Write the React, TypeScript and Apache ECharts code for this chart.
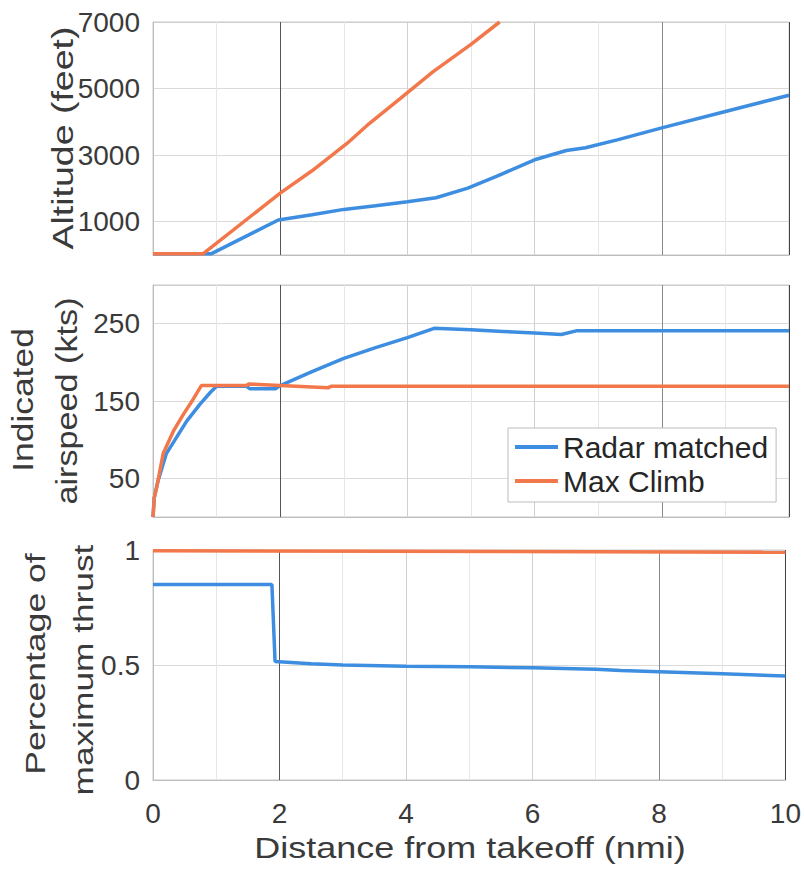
import React, { useEffect, useRef } from "react";
import * as echarts from "echarts";

// ---------- data ----------
const seriesNames = ["Radar matched", "Max Climb"];

// Altitude (feet) vs distance (nmi)
const altRadarX = [0, 0.92, 1.97, 2.5, 3.0, 3.5, 4.0, 4.45, 4.95, 5.4, 6.0, 6.5, 6.8, 7.3, 8.0, 9.0, 10];
const altRadarY = [40, 40, 1050, 1210, 1370, 1480, 1600, 1720, 2010, 2360, 2860, 3140, 3220, 3460, 3820, 4310, 4800];
const altClimbX = [0, 0.79, 2.0, 2.5, 3.05, 3.4, 3.9, 4.4, 5.0, 5.45];
const altClimbY = [40, 40, 1860, 2530, 3350, 3950, 4720, 5500, 6330, 7000];

// Indicated airspeed (kts)
const iasRadarX = [0, 0.02, 0.08, 0.21, 0.37, 0.53, 0.74, 0.9, 1.0, 1.47, 1.52, 1.93, 2.0, 2.5, 3.0, 3.5, 4.0, 4.42, 5.0, 5.5, 6.0, 6.42, 6.67, 7.0, 8.0, 9.0, 10];
const iasRadarY = [0, 25, 47, 82, 103, 124, 146, 161, 169, 169, 166, 166, 170, 188, 205, 219, 232, 244, 242, 240, 238, 236, 241, 241, 241, 241, 241];
const iasClimbX = [0, 0.02, 0.06, 0.16, 0.32, 0.48, 0.63, 0.76, 1.47, 1.5, 2.0, 2.75, 2.8, 10];
const iasClimbY = [0, 25, 39, 82, 111, 133, 152, 170, 170, 172, 170, 167, 169, 169];

// Percentage of maximum thrust
const thrRadarX = [0, 1.88, 1.93, 2.5, 3, 4, 5, 6, 7, 7.4, 8, 9, 10];
const thrRadarY = [0.85, 0.85, 0.515, 0.505, 0.5, 0.495, 0.492, 0.488, 0.482, 0.476, 0.471, 0.462, 0.452];
const thrClimbX = [0, 10];
const thrClimbY = [0.997, 0.99];

// tick labels
const xTickLabels = [0, 2, 4, 6, 8, 10];
const altTickLabels = [1000, 3000, 5000, 7000];
const iasTickLabels = [50, 150, 250];
const thrTickLabels = [0, 0.5, 1];

const BLUE = "#3d8de0";
const ORANGE = "#f2784b";
const FONT = '"Liberation Sans", Arial, Helvetica, sans-serif';
const TXT = "#3a3a3a";
const NONE = "rgba(0,0,0,0)";
const GRIDC = "#dadada";

const zip = (xs: number[], ys: number[]) => xs.map((x, i) => [x, ys[i]]);

export default function App() {
  const ref = useRef<HTMLDivElement>(null);

  useEffect(() => {
    if (!ref.current) return;
    const chart = echarts.init(ref.current, undefined, { renderer: "svg" });

    const xSplitColors = ["#cfcfcf", "#e6e6e6", "#555555", "#e6e6e6", "#d0d0d0", "#e6e6e6", "#d0d0d0", "#e6e6e6", "#8a8a8a", "#e6e6e6", "#444444"];

    const makeX = (gridIndex: number, showLabels: boolean) => ({
      type: "value",
      gridIndex,
      min: 0,
      max: 10,
      interval: 1,
      axisLine: { show: true, lineStyle: { color: "#bdbdbd", width: 1 } },
      axisTick: { show: false },
      axisLabel: {
        show: showLabels,
        margin: 19,
        fontSize: 28,
        fontFamily: FONT,
        color: TXT,
        formatter: (v: number) => (xTickLabels.includes(v) ? String(v) : ""),
      },
      splitLine: { show: true, lineStyle: { color: xSplitColors, width: 1 } },
    });

    const makeY = (gridIndex: number, max: number, interval: number, labels: number[], splitColors: string[]) => ({
      type: "value",
      gridIndex,
      min: 0,
      max,
      interval,
      axisLine: { show: true, lineStyle: { color: "#bdbdbd", width: 1 } },
      axisTick: { show: false },
      axisLabel: {
        margin: 13,
        fontSize: 28,
        fontFamily: FONT,
        color: TXT,
        formatter: (v: number) => (labels.some((l) => Math.abs(l - v) < 1e-9) ? String(v) : ""),
      },
      splitLine: { show: true, lineStyle: { color: splitColors, width: 1 } },
    });

    const line = (name: string, color: string, idx: number, data: number[][]) => ({
      name,
      type: "line",
      xAxisIndex: idx,
      yAxisIndex: idx,
      data,
      showSymbol: false,
      symbol: "none",
      lineStyle: { color, width: 3.5 },
      itemStyle: { color },
      z: name === seriesNames[0] ? 3 : 4,
    });

    const titleStyle = (text: string, size: number) => ({
      text,
      font: `${size}px ${FONT}`,
      fill: TXT,
      textAlign: "center",
      textVerticalAlign: "middle",
    });

    const option: any = {
      animation: false,
      backgroundColor: "#ffffff",
      grid: [
        { left: 153, right: 15, top: 22, height: 233, show: true, borderColor: "#c8c8c8", borderWidth: 1 },
        { left: 153, right: 15, top: 285, height: 232, show: true, borderColor: "#c8c8c8", borderWidth: 1 },
        { left: 153, right: 15, top: 550, height: 230, show: true, borderColor: "#c8c8c8", borderWidth: 1 },
      ],
      xAxis: [makeX(0, false), makeX(1, false), makeX(2, true)],
      yAxis: [
        makeY(0, 7000, 1000, altTickLabels, [NONE, GRIDC, NONE, GRIDC, NONE, GRIDC, NONE, "#cfcfcf"]),
        makeY(1, 300, 50, iasTickLabels, [NONE, GRIDC, NONE, GRIDC, NONE, GRIDC, "#cfcfcf"]),
        makeY(2, 1, 0.5, thrTickLabels, [NONE, GRIDC, "#cfcfcf"]),
      ],
      legend: {
        data: seriesNames,
        orient: "vertical",
        left: 508,
        top: 428,
        padding: [4, 8, 6, 7],
        itemGap: 4,
        itemWidth: 43,
        itemHeight: 4,
        icon: "rect",
        backgroundColor: "#ffffff",
        borderColor: "#bcbcbc",
        borderWidth: 1,
        borderRadius: 0,
        textStyle: { fontSize: 30, fontFamily: FONT, color: "#262626", lineHeight: 30 },
      },
      series: [
        line(seriesNames[0], BLUE, 0, zip(altRadarX, altRadarY)),
        line(seriesNames[1], ORANGE, 0, zip(altClimbX, altClimbY)),
        line(seriesNames[0], BLUE, 1, zip(iasRadarX, iasRadarY)),
        line(seriesNames[1], ORANGE, 1, zip(iasClimbX, iasClimbY)),
        line(seriesNames[0], BLUE, 2, zip(thrRadarX, thrRadarY)),
        line(seriesNames[1], ORANGE, 2, zip(thrClimbX, thrClimbY)),
      ],
      graphic: [
        { type: "text", x: 470, y: 848, scaleX: 1.2, style: titleStyle("Distance from takeoff (nmi)", 30) },
        { type: "text", x: 62, y: 138, rotation: Math.PI / 2, scaleX: 1.25, style: titleStyle("Altitude (feet)", 30) },
        { type: "text", x: 22, y: 400, rotation: Math.PI / 2, scaleX: 1.18, style: titleStyle("Indicated", 30) },
        { type: "text", x: 67, y: 401, rotation: Math.PI / 2, scaleX: 1.14, style: titleStyle("airspeed (kts)", 30) },
        { type: "text", x: 35, y: 664, rotation: Math.PI / 2, scaleX: 1.27, style: titleStyle("Percentage of", 28) },
        { type: "text", x: 83, y: 670, rotation: Math.PI / 2, scaleX: 1.26, style: titleStyle("maximum thrust", 28) },
      ],
    };

    chart.setOption(option);
    return () => chart.dispose();
  }, []);

  return (
    <div
      ref={ref}
      style={{ position: "fixed", left: 0, top: 0, width: 804, height: 874, background: "#fff" }}
    />
  );
}
